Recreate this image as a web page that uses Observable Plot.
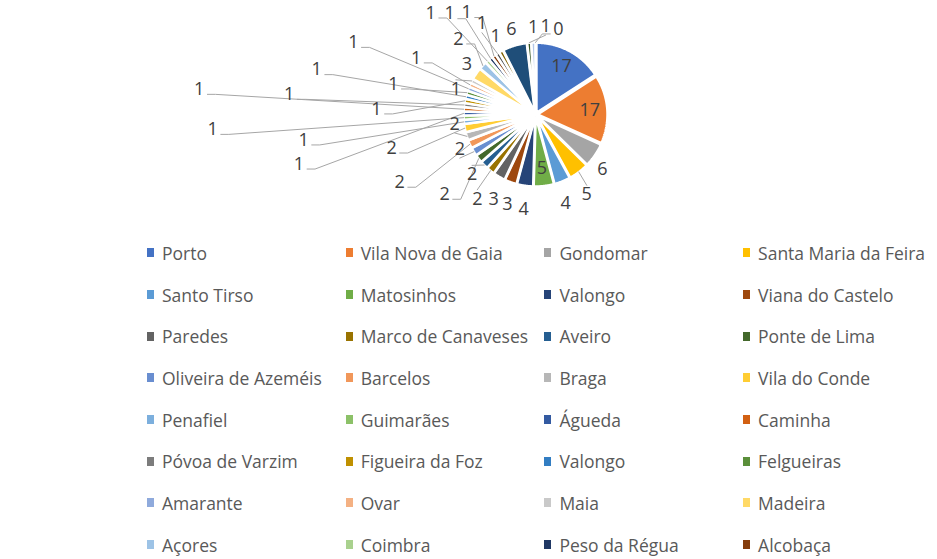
<!DOCTYPE html>
<html><head><meta charset="utf-8">
<script src="https://cdn.jsdelivr.net/npm/d3@7"></script>
<script src="https://cdn.jsdelivr.net/npm/@observablehq/plot@0.6"></script>
<style>
body{margin:0;background:#fff;font-family:"Open Sans",sans-serif;}
#wrap{position:relative;width:937px;height:559px;overflow:hidden;background:#fff;}
#legend{position:absolute;left:147px;top:232px;display:grid;grid-template-columns:repeat(4,198.7px);grid-auto-rows:41.7px;}
.item{display:flex;align-items:center;white-space:nowrap;font-size:17.5px;color:#595959;}
.sw{width:7px;height:9px;margin-right:8px;flex:none;}
</style></head>
<body><div id="wrap"><div id="chart"></div><div id="legend"></div></div>
<script>
// ---- data ----
const categories = [
  "Porto","Vila Nova de Gaia","Gondomar","Santa Maria da Feira",
  "Santo Tirso","Matosinhos","Valongo","Viana do Castelo",
  "Paredes","Marco de Canaveses","Aveiro","Ponte de Lima",
  "Oliveira de Azeméis","Barcelos","Braga","Vila do Conde",
  "Penafiel","Guimarães","Águeda","Caminha",
  "Póvoa de Varzim","Figueira da Foz","Valongo","Felgueiras",
  "Amarante","Ovar","Maia","Madeira",
  "Açores","Coimbra","Peso da Régua","Alcobaça",
  "(33)","(34)","(35)","(36)","(37)","(38)"
];
const counts = [
  17,17,6,5,
  4,5,4,3,
  3,2,2,2,
  2,2,2,2,
  1,1,1,1,
  1,1,1,1,
  1,1,1,3,
  2,1,1,1,
  1,1,6,1,1,0
];
const seriesColors = [
  "#4472C4","#ED7D31","#A5A5A5","#FFC000","#5B9BD5","#70AD47",
  "#264478","#9E480E","#636363","#997300","#255E91","#43682B",
  "#698ED0","#F1975A","#B7B7B7","#FFCD33","#7CAFDD","#8CC168",
  "#335AA1","#D26012","#7C7C7C","#BF9000","#327DC2","#5A8F3A",
  "#8FAADC","#F4B183","#C9C9C9","#FFD966","#9DC3E6","#A9D18E",
  "#203864","#843C0C","#525252","#7F6000","#1F4E79","#385723",
  "#B4C7E7","#F8CBAD"
];
const legendShown = 32; // the reference legend is cut after 32 entries

// ---- layout constants ----
const W = 937, H = 232, CX = 535, CY = 114, R = 70, EXPLODE = 2, GAP = 4;
const FS = 18, CW = 10.3, CAP = 13, HB_UP = 11, HB_DOWN = 20, BH = 24;

const arcs = d3.pie().sort(null).value(d => d)(counts);

// slices in pie units (radius = 1), y up
const slicePts = [];
arcs.forEach((a, i) => {
  const span = a.endAngle - a.startAngle;
  if (span <= 0) return;
  const mid = (a.startAngle + a.endAngle) / 2;
  const ox = EXPLODE / R * Math.sin(mid), oy = EXPLODE / R * Math.cos(mid);
  slicePts.push({id: i, x: ox, y: oy});
  const n = Math.max(2, Math.ceil(span / (Math.PI / 360)));
  for (let k = 0; k <= n; k++) {
    const t = a.startAngle + span * k / n;
    slicePts.push({id: i, x: ox + Math.sin(t), y: oy + Math.cos(t)});
  }
});

// ---- label layout (pixel space, then converted to pie units) ----
const toU = (px, py) => ({x: (px - CX) / R, y: (CY - py) / R});
const labels = [], leaders = [];
const placed = [];
const outside = [];
arcs.forEach((a, i) => {
  const txt = String(counts[i]);
  const mid = (a.startAngle + a.endAngle) / 2;
  const half = (a.endAngle - a.startAngle) / 2;
  const w = txt.length * CW;
  const rho = 0.75 * R;
  const proj = w / 2 * Math.abs(Math.cos(mid)) + CAP / 2 * Math.abs(Math.sin(mid));
  const readable = d3.lab(seriesColors[i]).l > 40; // dark text needs a light enough slice
  if (readable && half < Math.PI / 2 && proj + 1.4 <= rho * Math.sin(half)) {
    const px = CX + (EXPLODE + rho) * Math.sin(mid), py = CY - (EXPLODE + rho) * Math.cos(mid);
    labels.push({text: txt, ...toU(px, py)});
  } else {
    const s = Math.abs(Math.sin(mid));
    outside.push({i, txt, mid, w, v: counts[i], pad: 1 + 40 * s ** 6});
  }
});

// candidate offsets, sorted by cost (radial push cheaper than tangential)
const cands = [];
for (let d = 0; d <= 600; d += 2)
  for (let dg = -50; dg <= 50; dg += 1) {
    const rad = dg * Math.PI / 180;
    cands.push({d, rad, cost: d + 3.0 * Math.abs(rad) * (R + EXPLODE + GAP + d)});
  }
cands.sort((p, q) => p.cost - q.cost);

// larger values first, then labels nearest the vertical axis
outside.sort((p, q) => (q.v - p.v) || (Math.abs(Math.sin(p.mid)) - Math.abs(Math.sin(q.mid))));
for (const L of outside) {
  let best = null;
  for (const c of cands) {
    const ang = L.mid + c.rad, rr = R + EXPLODE + GAP + c.d;
    const sx = Math.sin(ang), sy = -Math.cos(ang);
    const cx = CX + rr * sx + sx * L.w / 2, cy = CY + rr * sy + sy * (sy > 0 ? HB_DOWN : HB_UP);
    const x0 = cx - L.w / 2, x1 = cx + L.w / 2, y0 = cy - BH / 2, y1 = cy + BH / 2;
    if (x0 < 4 || x1 > W - 4 || y0 < 0 || y1 > H) continue;
    const nx = Math.max(x0, Math.min(CX, x1)), ny = Math.max(y0, Math.min(CY, y1));
    if (Math.hypot(nx - CX, ny - CY) < R + EXPLODE + 2) continue;
    let hit = false;
    for (const b of placed) {
      const p = L.pad + b.pad;
      if (x0 - p < b.x1 && x1 + p > b.x0 && y0 < b.y1 && y1 > b.y0) { hit = true; break; }
    }
    if (hit) continue;
    best = {cx, cy, x0, x1, y0, y1, pad: L.pad, moved: c.d > 3 || Math.abs(c.rad) > 0.05};
    break;
  }
  if (!best) continue;
  placed.push(best);
  labels.push({text: L.txt, ...toU(best.cx, best.cy)});
  if (best.moved) {
    const S = {x: CX + (R + EXPLODE) * Math.sin(L.mid), y: CY - (R + EXPLODE) * Math.cos(L.mid)};
    const hw = L.w / 2;
    let pts;
    if (Math.abs(best.cx - S.x) > hw + 12) {
      const side = best.cx < S.x ? 1 : -1;
      pts = [S, {x: best.cx + side * (hw + 11), y: best.cy + 5}, {x: best.cx + side * (hw + 3), y: best.cy + 5}];
    } else {
      const vy = best.cy < S.y ? best.cy + 9 : best.cy - 9;
      pts = [S, {x: best.cx, y: vy}];
    }
    pts.forEach(p => leaders.push({id: L.i, ...toU(p.x, p.y)}));
  }
}

const chart = Plot.plot({
  width: W, height: H, margin: 0,
  style: {fontFamily: "Open Sans", background: "white"},
  x: {domain: [(0 - CX) / R, (W - CX) / R], axis: null},
  y: {domain: [-(H - CY) / R, CY / R], axis: null},
  color: {type: "identity"},
  marks: [
    Plot.line(slicePts, {x: "x", y: "y", z: "id", fill: d => seriesColors[d.id], stroke: "white", strokeWidth: 2.5, strokeLinejoin: "miter", curve: "linear-closed"}),
    Plot.line(leaders, {x: "x", y: "y", z: "id", stroke: "#a6a6a6", strokeWidth: 1, strokeLinejoin: "miter"}),
    Plot.text(labels, {x: "x", y: "y", text: "text", fontSize: FS, fill: "#404040", fontFamily: "Open Sans"})
  ]
});
document.getElementById("chart").appendChild(chart);

const legend = document.getElementById("legend");
categories.slice(0, legendShown).forEach((name, i) => {
  const it = document.createElement("div");
  it.className = "item";
  const sw = document.createElement("span");
  sw.className = "sw"; sw.style.background = seriesColors[i];
  it.appendChild(sw);
  it.appendChild(document.createTextNode(name));
  legend.appendChild(it);
});
</script>
</body></html>
